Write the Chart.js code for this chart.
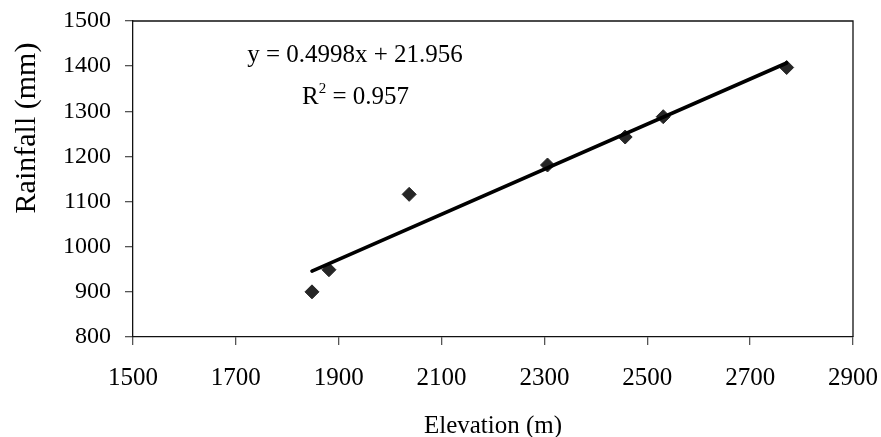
<!DOCTYPE html>
<html>
<head>
<meta charset="utf-8">
<script src="https://cdn.jsdelivr.net/npm/chart.js@4/dist/chart.umd.min.js"></script>
<style>
  html, body { margin: 0; padding: 0; background: #fff; }
  #wrap { width: 881px; height: 437px; }
</style>
</head>
<body>
<div id="wrap"><canvas id="rainChart" width="881" height="437"></canvas></div>
<script>
// Observed stations: elevation (m) vs rainfall (mm)
const elevation = [1848, 1881, 2037, 2306, 2457, 2531, 2771];
const rainfall = [900, 949, 1116, 1181, 1243, 1288, 1397];

// Linear trend line endpoints
const trendX = [1848, 2771];
const trendY = [946, 1407];

// Axis tick labels
const xTicks = [1500, 1700, 1900, 2100, 2300, 2500, 2700, 2900];
const yTicks = [800, 900, 1000, 1100, 1200, 1300, 1400, 1500];

const equationText = 'y = 0.4998x + 21.956';
const r2Text = '0.957';

const serif = '"Liberation Serif", "DejaVu Serif", serif';

// Box round the plot area plus the equation and y title
const extrasPlugin = {
    id: 'extras',
    afterDraw(chart) {
        const ctx = chart.ctx;
        const a = chart.chartArea;
        ctx.save();
        ctx.strokeStyle = '#111';
        ctx.lineWidth = 1.3;
        ctx.beginPath();
        ctx.moveTo(a.left, a.top);
        ctx.lineTo(a.right, a.top);
        ctx.lineTo(a.right, a.bottom);
        ctx.stroke();

        ctx.fillStyle = '#000';
        ctx.textBaseline = 'alphabetic';
        ctx.font = '25px ' + serif;
        ctx.textAlign = 'center';
        ctx.fillText(equationText, 355, 62);

        // R² = 0.957
        ctx.textAlign = 'left';
        let x = 302;
        ctx.fillText('R', x, 104);
        x += ctx.measureText('R').width;
        ctx.font = '15px ' + serif;
        ctx.fillText('2', x, 93);
        x += ctx.measureText('2').width;
        ctx.font = '25px ' + serif;
        ctx.fillText(' = ' + r2Text, x, 104);

        // rotated y title
        ctx.translate(27, 128);
        ctx.rotate(-Math.PI / 2);
        ctx.textAlign = 'center';
        ctx.textBaseline = 'middle';
        ctx.font = '30px ' + serif;
        ctx.fillText('Rainfall (mm)', 0, 0);
        ctx.restore();
    }
};

const ctx = document.getElementById('rainChart').getContext('2d');
new Chart(ctx, {
    type: 'scatter',
    data: {
        datasets: [
            {
                label: 'Trend',
                data: trendX.map((x, i) => ({ x: x, y: trendY[i] })),
                showLine: true,
                borderColor: '#000',
                borderWidth: 3.6,
                borderCapStyle: 'round',
                pointRadius: 0,
                fill: false,
                order: 0,
            },
            {
                label: 'Rainfall',
                data: elevation.map((x, i) => ({ x: x, y: rainfall[i] })),
                pointStyle: 'rectRot',
                pointRadius: 7,
                backgroundColor: '#262626',
                borderColor: '#262626',
                borderWidth: 1,
                order: 1,
            },
        ],
    },
    options: {
        responsive: false,
        animation: false,
        events: [],
        layout: { padding: { top: 21, right: 28, left: 0, bottom: 0 } },
        plugins: {
            legend: { display: false },
            tooltip: { enabled: false },
        },
        scales: {
            x: {
                type: 'linear',
                min: 1500,
                max: 2900,
                afterBuildTicks: (scale) => { scale.ticks = xTicks.map((v) => ({ value: v })); },
                afterFit: (scale) => {
                    scale.height = 100;
                    scale.paddingLeft = 0;
                    scale.paddingRight = 0;
                },
                grid: { display: true, drawOnChartArea: false, drawTicks: true, tickLength: 8, color: '#555', lineWidth: 1.3 },
                border: { display: true, color: '#111', width: 1.3 },
                ticks: {
                    color: '#000',
                    padding: 18,
                    maxRotation: 0,
                    font: { family: serif, size: 25 },
                    callback: (v) => String(v),
                },
                title: {
                    display: true,
                    text: 'Elevation (m)',
                    color: '#000',
                    font: { family: serif, size: 25 },
                    padding: { top: 0, bottom: -4 },
                },
            },
            y: {
                type: 'linear',
                min: 800,
                max: 1500,
                afterBuildTicks: (scale) => { scale.ticks = yTicks.map((v) => ({ value: v })); },
                afterFit: (scale) => {
                    scale.width = 133;
                    scale.paddingTop = 0;
                    scale.paddingBottom = 0;
                },
                grid: { display: true, drawOnChartArea: false, drawTicks: true, tickLength: 8, color: '#555', lineWidth: 1.3 },
                border: { display: true, color: '#111', width: 1.3 },
                ticks: {
                    color: '#000',
                    padding: 14,
                    font: { family: serif, size: 24 },
                    callback: (v) => String(v),
                },
            },
        },
    },
    plugins: [extrasPlugin],
});
</script>
</body>
</html>
